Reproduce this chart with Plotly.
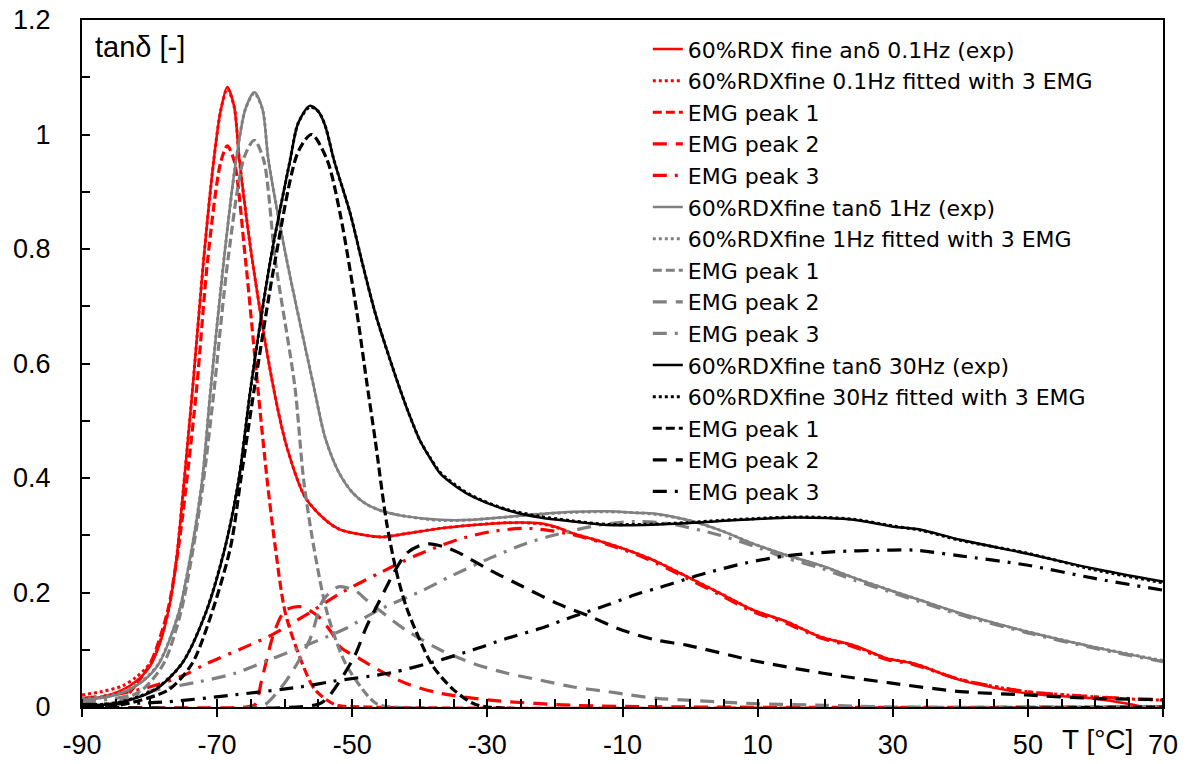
import plotly.graph_objects as go

FONT = "Liberation Sans, Arial, sans-serif"
LEG_FONT = "DejaVu Sans, Liberation Sans, sans-serif"

# ---------------- axis ticks ----------------
x_tickvals = [-90, -70, -50, -30, -10, 10, 30, 50, 70]
x_ticktext = ["-90", "-70", "-50", "-30", "-10", "10", "30", "50", "70"]

# ---------------- 0.1 Hz (red) ----------------
red_exp_T = [-90, -87, -84, -82, -80, -78.5, -77, -76, -75, -73.6, -72, -70.5, -69.5, -68.5, -67.5, -66.7,
             -64.8, -61.7, -59.7, -57, -54, -51.8, -48, -45.6, -42, -37, -32, -27, -22.2, -19.7, -17.3,
             -12.3, -7.4, -4.4, -0.5, 4.4, 9.4, 14.3, 19.2, 24.2, 29.1, 33.1, 40, 49.8, 59.7, 64.6, 67]
red_exp_V = [0.012, 0.018, 0.03, 0.045, 0.07, 0.11, 0.18, 0.26, 0.38, 0.56, 0.781, 0.955, 1.04, 1.083, 1.05, 0.955,
             0.781, 0.56, 0.455, 0.367, 0.327, 0.31, 0.30, 0.297, 0.303, 0.312, 0.318, 0.322, 0.321, 0.314, 0.303,
             0.286, 0.266, 0.251, 0.228, 0.199, 0.169, 0.149, 0.123, 0.108, 0.085, 0.076, 0.047, 0.024, 0.015, 0.006, 0.0]

red_fit_T = [-90, -87, -84, -82, -80, -78.5, -77, -76, -75, -73.6, -72, -70.5, -69.5, -68.5, -67.5, -66.7,
             -64.8, -61.7, -59.7, -57, -54, -51.8, -48, -45.6, -42, -37, -32, -27, -22.2, -19.7, -17.3,
             -12.3, -7.4, -4.4, -0.5, 4.4, 9.4, 14.3, 19.2, 24.2, 29.1, 33.1, 40, 49.8, 59.7, 65, 70]
red_fit_V = [0.021, 0.027, 0.037, 0.052, 0.075, 0.112, 0.18, 0.26, 0.38, 0.56, 0.781, 0.955, 1.04, 1.08, 1.05, 0.955,
             0.781, 0.56, 0.455, 0.367, 0.327, 0.31, 0.30, 0.297, 0.303, 0.312, 0.318, 0.322, 0.320, 0.313, 0.303,
             0.286, 0.266, 0.251, 0.228, 0.199, 0.169, 0.149, 0.123, 0.107, 0.085, 0.076, 0.048, 0.027, 0.018, 0.014, 0.012]

red_p1_T = [-90, -85, -82.6, -79.9, -77.4, -75.7, -73.1, -71.4, -69.5, -68.5, -67.5, -65.8, -63.9, -62.6,
            -61.4, -59.9, -57.4, -55.5, -52.5, -48, 70]
red_p1_V = [0, 0.003, 0.03, 0.076, 0.164, 0.28, 0.548, 0.781, 0.95, 0.98, 0.955, 0.781, 0.548, 0.397,
            0.28, 0.164, 0.076, 0.03, 0.004, 0, 0]

red_p2_T = [-90, -66, -64.4, -63.4, -61.6, -59.9, -57.5, -55, -53, -51.8, -49, -46.9, -42, -37, -29.6, -17.3, 0, 70]
red_p2_V = [0, 0, 0.004, 0.047, 0.129, 0.169, 0.175, 0.158, 0.129, 0.105, 0.085, 0.070, 0.041, 0.024, 0.012, 0.003, 0, 0]

red_p3_T = [-90, -85, -80, -75, -71.5, -65.8, -61.9, -56.4, -51.7, -45.8, -40.5, -34.5, -29.6, -24.7, -21.2,
            -17, -12, -7, -0.5, 4.4, 9.4, 14.3, 19.2, 24.2, 29.1, 33.1, 40, 49.8, 59.7, 70]
red_p3_V = [0.015, 0.022, 0.035, 0.055, 0.076, 0.105, 0.126, 0.164, 0.199, 0.235, 0.265, 0.292, 0.306, 0.312, 0.309,
            0.300, 0.283, 0.262, 0.225, 0.196, 0.166, 0.146, 0.121, 0.105, 0.083, 0.074, 0.048, 0.027, 0.018, 0.012]

# ---------------- 1 Hz (gray) ----------------
gray_exp_T = [-90, -86, -84, -81, -78.6, -75.7, -73.7, -72.2, -71, -69, -67.2, -65.8, -64.5, -63.3, -62.4,
              -59.7, -55.7, -54, -52, -50, -48, -45.5, -42, -37, -32.1, -27.1, -22.2, -17.3, -12.3, -7.4, -5.4,
              -0.5, 4.4, 9.4, 14.3, 19.5, 24.2, 29.6, 34, 40, 49.8, 59.7, 70]
gray_exp_V = [0.012, 0.018, 0.025, 0.045, 0.076, 0.164, 0.28, 0.397, 0.55, 0.781, 0.955, 1.045, 1.074, 1.045, 0.955,
              0.781, 0.56, 0.47, 0.41, 0.375, 0.355, 0.342, 0.333, 0.327, 0.327, 0.332, 0.337, 0.341, 0.342, 0.339, 0.338,
              0.327, 0.309, 0.285, 0.265, 0.247, 0.226, 0.204, 0.187, 0.164, 0.132, 0.105, 0.08]

gray_fit_T = gray_exp_T
gray_fit_V = [0.015, 0.02, 0.027, 0.046, 0.077, 0.164, 0.28, 0.397, 0.55, 0.781, 0.955, 1.045, 1.072, 1.045, 0.955,
              0.781, 0.56, 0.47, 0.41, 0.375, 0.355, 0.342, 0.333, 0.326, 0.327, 0.332, 0.337, 0.340, 0.341, 0.339, 0.337,
              0.327, 0.309, 0.285, 0.265, 0.246, 0.226, 0.204, 0.187, 0.163, 0.132, 0.105, 0.081]

gray_p1_T = [-90, -86, -81.1, -77.9, -75.4, -73.5, -72, -70.5, -68.4, -66, -64.5, -63.1, -61.4, -58.5, -57.2,
             -55.7, -53.7, -51, -47.6, -46.3, -44, 70]
gray_p1_V = [0, 0.005, 0.03, 0.076, 0.164, 0.28, 0.397, 0.548, 0.781, 0.96, 0.99, 0.955, 0.781, 0.56, 0.397,
             0.28, 0.164, 0.076, 0.018, 0.005, 0, 0]

gray_p2_T = [-90, -64, -62.7, -59.7, -56.3, -54.3, -52, -49.5, -47.9, -45, -42, -37, -32.1, -27.1, -22.2, -17.3,
             -12.3, -8.9, -4.9, -0.5, 9.4, 20, 30, 70]
gray_p2_V = [0, 0, 0.006, 0.047, 0.117, 0.187, 0.21, 0.203, 0.187, 0.16, 0.134, 0.1, 0.076, 0.059, 0.047, 0.035,
             0.027, 0.021, 0.015, 0.012, 0.006, 0.003, 0.0, 0.0]

gray_p3_T = [-90, -85, -79, -72.7, -67.3, -62.4, -57.4, -52.5, -50.8, -46, -39.5, -35.5, -29.6, -24.2, -20.2,
             -13.3, -8, -3, 4.4, 10.4, 14.3, 19.5, 24.2, 29.6, 34, 40, 49.8, 59.7, 70]
gray_p3_V = [0.008, 0.015, 0.03, 0.044, 0.059, 0.082, 0.105, 0.129, 0.138, 0.17, 0.204, 0.228, 0.26, 0.286, 0.300,
             0.318, 0.324, 0.32, 0.30, 0.277, 0.26, 0.242, 0.222, 0.201, 0.184, 0.161, 0.13, 0.103, 0.079]

# ---------------- 30 Hz (black) ----------------
black_exp_T = [-90, -85, -79.2, -75.2, -71.7, -68.8, -66.8, -65, -62.1, -59.2, -58, -56.3, -55, -54, -52.7, -50.3,
               -48.5, -46.6, -45, -43.4, -41.7, -40, -38.5, -37, -34.5, -32.1, -27.1, -22.2, -17.3, -12.3, -7, -0.5,
               4.5, 9.4, 15.3, 20.2, 24.2, 30.1, 34, 40, 49.8, 59.7, 70]
black_exp_V = [0.003, 0.006, 0.03, 0.076, 0.164, 0.28, 0.397, 0.56, 0.781, 0.955, 1.02, 1.05, 1.04, 1.015, 0.955, 0.862,
               0.775, 0.688, 0.628, 0.571, 0.515, 0.466, 0.435, 0.408, 0.384, 0.367, 0.344, 0.331, 0.324, 0.318, 0.318, 0.321,
               0.325, 0.328, 0.331, 0.33, 0.327, 0.315, 0.31, 0.292, 0.268, 0.242, 0.219]

black_fit_T = black_exp_T
black_fit_V = [0.004, 0.007, 0.031, 0.076, 0.164, 0.28, 0.397, 0.56, 0.781, 0.955, 1.02, 1.048, 1.04, 1.015, 0.955, 0.862,
               0.775, 0.688, 0.628, 0.571, 0.515, 0.466, 0.436, 0.41, 0.386, 0.368, 0.345, 0.333, 0.325, 0.319, 0.319, 0.322,
               0.326, 0.329, 0.332, 0.331, 0.328, 0.316, 0.309, 0.291, 0.269, 0.24, 0.217]

black_p1_T = [-90, -85, -77.2, -73.7, -70.8, -68, -66.5, -64.6, -61.4, -58, -56, -53.7, -51.8, -49.3, -47.9,
              -46.6, -44.9, -43.4, -42, -40, -38, -35, -32.1, -30, 70]
black_p1_V = [0, 0.002, 0.03, 0.076, 0.164, 0.28, 0.397, 0.548, 0.781, 0.97, 1.0, 0.955, 0.862, 0.688, 0.571,
              0.466, 0.321, 0.233, 0.175, 0.117, 0.07, 0.03, 0.006, 0, 0]

black_p2_T = [-90, -55, -53.5, -49.7, -47.9, -45.9, -43.9, -42, -40, -38.5, -36.5, -34.5, -29.6, -24.7, -19.7,
              -14.8, -10, -5, -0.5, 9.8, 19.7, 29.6, 40, 49.8, 59.7, 70]
black_p2_V = [0, 0.005, 0.018, 0.088, 0.14, 0.187, 0.233, 0.268, 0.282, 0.285, 0.28, 0.271, 0.239, 0.21, 0.181,
              0.158, 0.134, 0.117, 0.108, 0.08, 0.059, 0.042, 0.027, 0.021, 0.015, 0.013]

black_p3_T = [-90, -77.5, -67.6, -57.7, -52.8, -44.2, -37, -32.1, -27.1, -22.2, -17.3, -12.3, -7.4, -4.4, 1.5,
              8.4, 14.3, 21, 29.1, 33.1, 40, 49.8, 59.7, 70]
black_p3_V = [0.004, 0.009, 0.021, 0.035, 0.045, 0.06, 0.082, 0.1, 0.12, 0.137, 0.158, 0.178, 0.199, 0.209, 0.231,
              0.252, 0.264, 0.271, 0.274, 0.274, 0.264, 0.248, 0.225, 0.204]

# legend labels
labels = [
    "60%RDX fine anδ 0.1Hz (exp)", "60%RDXfine 0.1Hz fitted with 3 EMG", "EMG peak 1", "EMG peak 2", "EMG peak 3",
    "60%RDXfine tanδ 1Hz (exp)", "60%RDXfine 1Hz fitted with 3 EMG", "EMG peak 1", "EMG peak 2", "EMG peak 3",
    "60%RDXfine tanδ 30Hz (exp)", "60%RDXfine 30Hz fitted with 3 EMG", "EMG peak 1", "EMG peak 2", "EMG peak 3",
]

RED, GRAY, BLACK = "#FF0000", "#808080", "#000000"
styles = [
    ("solid", 2.5), ("dot", 3), ("9px,4px", 3.2), ("14px,9px", 3.2), ("14px,8px,3px,8px", 3.2),
]

groups = [
    (RED, [(red_exp_T, red_exp_V), (red_fit_T, red_fit_V), (red_p1_T, red_p1_V), (red_p2_T, red_p2_V), (red_p3_T, red_p3_V)]),
    (GRAY, [(gray_exp_T, gray_exp_V), (gray_fit_T, gray_fit_V), (gray_p1_T, gray_p1_V), (gray_p2_T, gray_p2_V), (gray_p3_T, gray_p3_V)]),
    (BLACK, [(black_exp_T, black_exp_V), (black_fit_T, black_fit_V), (black_p1_T, black_p1_V), (black_p2_T, black_p2_V), (black_p3_T, black_p3_V)]),
]

fig = go.Figure()
k = 0
for color, series in groups:
    for (T, V), (dash, w) in zip(series, styles):
        fig.add_trace(go.Scatter(
            x=T, y=V, mode="lines", name=labels[k],
            line=dict(color=color, width=w, dash=dash, shape="spline", smoothing=0.8),
        ))
        k += 1

fig.update_layout(
    width=1189, height=764,
    margin=dict(l=82, r=26, t=20, b=57, autoexpand=False),
    plot_bgcolor="white", paper_bgcolor="white",
    font=dict(family=FONT, color="black"),
    showlegend=True,
    legend=dict(x=0.5234, y=0.988, xanchor="left", yanchor="top",
                font=dict(size=22, family=LEG_FONT, color="black"),
                bgcolor="rgba(0,0,0,0)", tracegroupgap=0, itemwidth=30),
)
fig.update_xaxes(
    range=[-90, 70], tickmode="array", tickvals=x_tickvals, ticktext=x_ticktext,
    showgrid=False, zeroline=False, automargin=False,
    showline=True, linecolor="black", linewidth=2, mirror=True,
    ticks="outside", ticklen=8, tickwidth=1.5, tickcolor="black",
    minor=dict(ticks="inside", dtick=5, tick0=-90, ticklen=8, tickwidth=1.5, tickcolor="black"),
    tickfont=dict(size=27, family=FONT, color="black"), ticklabelstandoff=5,
)
fig.update_yaxes(
    range=[0, 1.2], dtick=0.2, showgrid=False, zeroline=False, automargin=False,
    showline=True, linecolor="black", linewidth=2, mirror=True,
    ticks="inside", ticklen=8, tickwidth=1.5, tickcolor="black",
    minor=dict(ticks="inside", dtick=0.1, ticklen=8, tickwidth=1.5, tickcolor="black"),
    tickfont=dict(size=27, family=FONT, color="black"), ticklabelstandoff=24,
)
fig.add_annotation(text="tanδ [-]", xref="paper", yref="paper", x=0.0102, y=0.9607,
                   xanchor="left", yanchor="middle", showarrow=False,
                   font=dict(size=29, family=FONT, color="black"))
fig.add_annotation(text="T [°C]", xref="paper", yref="paper", x=0.939, y=-0.048,
                   xanchor="center", yanchor="middle", showarrow=False,
                   font=dict(size=28, family=FONT, color="black"))

# remove the default 8px page margin so the figure fills the window exactly
fig.write_html("out.html", config={"displayModeBar": False},
               post_script="document.body.style.margin='0';document.body.style.padding='0';")
